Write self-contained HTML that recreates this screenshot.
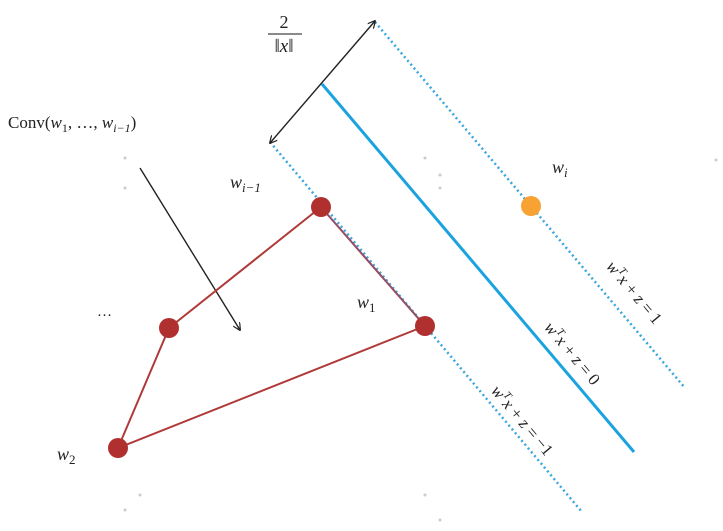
<!DOCTYPE html>
<html><head><style>
html,body{margin:0;padding:0;background:#fff;width:723px;height:531px;overflow:hidden}
text{font-family:"Liberation Serif",serif;fill:#222}
</style></head><body>
<svg width="723" height="531" viewBox="0 0 723 531" xmlns="http://www.w3.org/2000/svg">
<defs>
<marker id="ah" viewBox="0 0 10 10" refX="9" refY="5" markerWidth="8" markerHeight="8" orient="auto-start-reverse" markerUnits="userSpaceOnUse">
<path d="M0,0 L10,5 L0,10" fill="none" stroke="#222" stroke-width="1.5"/>
</marker>
</defs>
<line x1="375" y1="22" x2="685" y2="388" stroke="#3aa6dd" stroke-width="2.5" stroke-dasharray="2,3"/>
<line x1="270" y1="142" x2="582" y2="512" stroke="#3aa6dd" stroke-width="2.5" stroke-dasharray="2,3"/>
<line x1="322" y1="84" x2="634" y2="452" stroke="#1ba3e0" stroke-width="3"/>
<line x1="375" y1="21" x2="270" y2="143" stroke="#222" stroke-width="1.4" marker-start="url(#ah)" marker-end="url(#ah)"/>
<line x1="140" y1="168" x2="240" y2="330" stroke="#222" stroke-width="1.4" marker-end="url(#ah)"/>
<g stroke="#b03a3a" stroke-width="2" fill="none">
<polyline points="321,207 425,326 118,448 169,328 321,207"/>
</g>
<line x1="323" y1="209" x2="427" y2="328" stroke="#7a5a8a" stroke-width="1"/>
<g fill="#b0302f">
<circle cx="321" cy="207" r="10"/><circle cx="425" cy="326" r="10"/>
<circle cx="118" cy="448" r="10"/><circle cx="169" cy="328" r="10"/>
</g>
<circle cx="531" cy="206" r="10" fill="#f7a233"/>
<g fill="#ccc"><circle cx="125" cy="158" r="1.5"/><circle cx="125" cy="188" r="1.5"/><circle cx="425" cy="158" r="1.5"/><circle cx="440" cy="175" r="1.5"/><circle cx="440" cy="188" r="1.5"/><circle cx="125" cy="510" r="1.5"/><circle cx="140" cy="495" r="1.5"/><circle cx="425" cy="495" r="1.5"/><circle cx="440" cy="520" r="1.5"/><circle cx="716" cy="160" r="1.5"/></g>
<text x="284" y="28" font-size="18" text-anchor="middle">2</text>
<line x1="268" y1="34" x2="302" y2="34" stroke="#444" stroke-width="1.2"/>
<text x="284" y="52" font-size="19" text-anchor="middle">‖<tspan font-style="italic">x</tspan>‖</text>
<text x="8" y="128" font-size="17">Conv(<tspan font-style="italic">w</tspan><tspan font-size="12" dy="4">1</tspan><tspan dy="-4">, …, </tspan><tspan font-style="italic">w</tspan><tspan font-size="12" dy="4" font-style="italic">i−1</tspan><tspan dy="-4">)</tspan></text>
<text x="230" y="188" font-size="18" font-style="italic">w<tspan font-size="13" dy="4">i−1</tspan></text>
<text x="552" y="173" font-size="18" font-style="italic">w<tspan font-size="13" dy="4">i</tspan></text>
<text x="357" y="308" font-size="18" font-style="italic">w<tspan font-size="13" dy="4" font-style="normal">1</tspan></text>
<text x="57" y="460" font-size="18" font-style="italic">w<tspan font-size="13" dy="4" font-style="normal">2</tspan></text>
<text x="97" y="316" font-size="15">…</text>
<text transform="translate(630,296) rotate(50)" font-size="17" text-anchor="middle"><tspan font-style="italic">w<tspan font-size="11" dy="-7">T</tspan><tspan dy="7">x</tspan></tspan> + <tspan font-style="italic">z</tspan> = 1</text>
<text transform="translate(568,357) rotate(50)" font-size="17" text-anchor="middle"><tspan font-style="italic">w<tspan font-size="11" dy="-7">T</tspan><tspan dy="7">x</tspan></tspan> + <tspan font-style="italic">z</tspan> = 0</text>
<text transform="translate(518,424) rotate(50)" font-size="17" text-anchor="middle"><tspan font-style="italic">w<tspan font-size="11" dy="-7">T</tspan><tspan dy="7">x</tspan></tspan> + <tspan font-style="italic">z</tspan> = −1</text>
</svg>
</body></html>
